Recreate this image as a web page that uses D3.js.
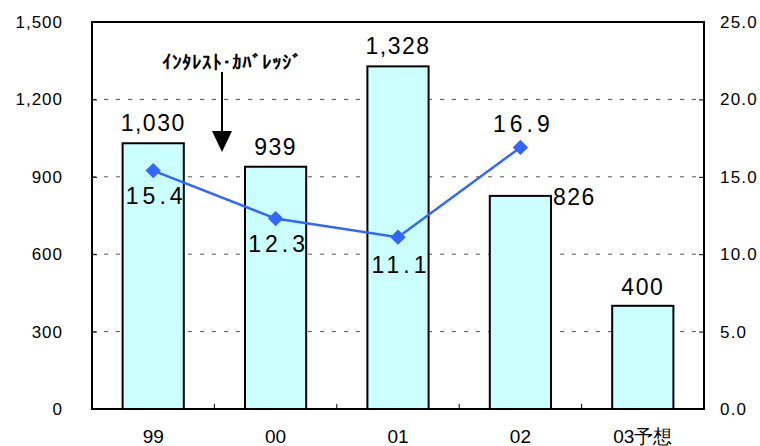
<!DOCTYPE html>
<html>
<head>
<meta charset="utf-8">
<script src="https://cdn.jsdelivr.net/npm/d3@7"></script>
<style>
  body { margin: 0; background: #fff; }
  text { font-family: "Liberation Sans", Arial, sans-serif; }
</style>
</head>
<body>
<div id="chart"></div>
<script>
// chart data
var categories = ["99", "00", "01", "02", "03予想"];
var barValues = [1030, 939, 1328, 826, 400];
var barLabels = ["1,030", "939", "1,328", "826", "400"];
var lineValues = [15.4, 12.3, 11.1, 16.9];
var lineLabels = ["15.4", "12.3", "11.1", "16.9"];
var leftTicks = [0, 300, 600, 900, 1200, 1500];
var leftTickLabels = ["0", "300", "600", "900", "1,200", "1,500"];
var rightTicks = [0, 5, 10, 15, 20, 25];
var rightTickLabels = ["0.0", "5.0", "10.0", "15.0", "20.0", "25.0"];
var annotation = "ｲﾝﾀﾚｽﾄ･ｶﾊﾞﾚｯｼﾞ";

var svgWidth = 760;
var svgHeight = 446;
var margin = { top: 22, right: 56, bottom: 37, left: 92 };
var width = svgWidth - margin.left - margin.right;
var height = svgHeight - margin.top - margin.bottom;

var svg = d3.select("#chart")
  .append("svg")
  .attr("width", svgWidth)
  .attr("height", svgHeight);

var chartGroup = svg.append("g")
  .attr("transform", `translate(${margin.left}, ${margin.top})`);

// scales
var xScale = d3.scaleBand()
  .domain(categories)
  .range([0, width])
  .paddingInner(0.5)
  .paddingOuter(0.25);
var step = xScale.step();

var yLeft = d3.scaleLinear().domain([0, 1500]).range([height, 0]);
var yRight = d3.scaleLinear().domain([0, 25]).range([height, 0]);

// dashed gridlines
chartGroup.selectAll(".grid")
  .data(leftTicks.filter(d => d > 0 && d < 1500))
  .enter().append("line")
  .attr("x1", 0).attr("x2", width)
  .attr("y1", d => yLeft(d)).attr("y2", d => yLeft(d))
  .attr("stroke", "#555")
  .attr("stroke-width", 1)
  .attr("stroke-dasharray", "4,8");

// bars
chartGroup.selectAll(".bar")
  .data(barValues)
  .enter().append("rect")
  .attr("x", (d, i) => xScale(categories[i]))
  .attr("y", d => yLeft(d))
  .attr("width", xScale.bandwidth())
  .attr("height", d => height - yLeft(d))
  .attr("fill", "#CCFFFF")
  .attr("stroke", "#000")
  .attr("stroke-width", 2);

// bar labels
var barLabelPos = [
  { dx: 0, dy: -12, anchor: "middle" },
  { dx: 0, dy: -12, anchor: "middle" },
  { dx: 0, dy: -12, anchor: "middle" },
  { dx: 2, dy: 9, anchor: "start" },
  { dx: 0, dy: -11, anchor: "middle" }
];
chartGroup.selectAll(".barlabel")
  .data(barValues)
  .enter().append("text")
  .attr("x", (d, i) => i == 3 ? xScale(categories[i]) + xScale.bandwidth() + barLabelPos[i].dx
                            : xScale(categories[i]) + xScale.bandwidth() / 2)
  .attr("y", (d, i) => yLeft(d) + barLabelPos[i].dy)
  .attr("text-anchor", (d, i) => barLabelPos[i].anchor)
  .attr("font-size", 23)
  .attr("letter-spacing", 1.5)
  .text((d, i) => barLabels[i]);

// line
var cx = (d, i) => xScale(categories[i]) + xScale.bandwidth() / 2;
var line = d3.line()
  .x((d, i) => cx(d, i))
  .y(d => yRight(d));
chartGroup.append("path")
  .datum(lineValues)
  .attr("d", line)
  .attr("fill", "none")
  .attr("stroke", "#3366FF")
  .attr("stroke-width", 2.5);

chartGroup.selectAll(".marker")
  .data(lineValues)
  .enter().append("path")
  .attr("d", d3.symbol().type(d3.symbolDiamond2).size(150))
  .attr("transform", (d, i) => `translate(${cx(d, i)}, ${yRight(d)})`)
  .attr("fill", "#3366FF");

// line labels
var lineLabelDy = [33, 33, 36, -15];
chartGroup.selectAll(".linelabel")
  .data(lineValues)
  .enter().append("text")
  .attr("x", (d, i) => cx(d, i) + 3)
  .attr("y", (d, i) => yRight(d) + lineLabelDy[i])
  .attr("text-anchor", "middle")
  .attr("font-size", 23)
  .attr("letter-spacing", 4)
  .text((d, i) => lineLabels[i]);

// frame
chartGroup.append("rect")
  .attr("x", 0).attr("y", 0)
  .attr("width", width).attr("height", height)
  .attr("fill", "none")
  .attr("stroke", "#000")
  .attr("stroke-width", 2);

// axes
var leftAxis = d3.axisLeft(yLeft)
  .tickValues(leftTicks)
  .tickSize(-5)
  .tickPadding(29)
  .tickFormat((d, i) => leftTickLabels[i]);
var rightAxis = d3.axisRight(yRight)
  .tickValues(rightTicks)
  .tickSize(-5)
  .tickPadding(16)
  .tickFormat((d, i) => rightTickLabels[i]);

var gl = chartGroup.append("g").call(leftAxis);
var gr = chartGroup.append("g").attr("transform", `translate(${width}, 0)`).call(rightAxis);
[gl, gr].forEach(function(g) {
  g.select(".domain").remove();
  g.selectAll("line").attr("stroke", "#000");
  g.selectAll("text")
    .attr("font-size", 17)
    .attr("font-family", "Liberation Sans, Arial, sans-serif")
    .attr("fill", "#000");
});
gr.selectAll("text").attr("letter-spacing", 1.2);
gl.selectAll("text").attr("letter-spacing", 1);

// x boundary ticks
chartGroup.selectAll(".xtick")
  .data(d3.range(1, categories.length))
  .enter().append("line")
  .attr("x1", d => d * step).attr("x2", d => d * step)
  .attr("y1", height).attr("y2", height - 5)
  .attr("stroke", "#000");

// x category labels
chartGroup.selectAll(".xlabel")
  .data(categories)
  .enter().append("text")
  .attr("x", d => xScale(d) + xScale.bandwidth() / 2)
  .attr("y", height + 34)
  .attr("text-anchor", "middle")
  .attr("font-size", 19)
  .attr("font-family", "'Liberation Sans Narrow', 'Liberation Sans', 'Noto Sans CJK JP', sans-serif")
  .text(d => d);

// annotation with arrow
chartGroup.append("text")
  .attr("x", 140)
  .attr("y", 47)
  .attr("text-anchor", "middle")
  .attr("font-size", 19)
  .attr("font-family", "'Noto Sans CJK JP', sans-serif")
  .attr("font-weight", "bold")
  .text(annotation);
chartGroup.append("line")
  .attr("x1", 130).attr("x2", 130)
  .attr("y1", 50).attr("y2", 112)
  .attr("stroke", "#000")
  .attr("stroke-width", 2);
chartGroup.append("path")
  .attr("d", d3.line()([[120, 109], [140, 109], [130, 130]]))
  .attr("fill", "#000");
</script>
</body>
</html>
